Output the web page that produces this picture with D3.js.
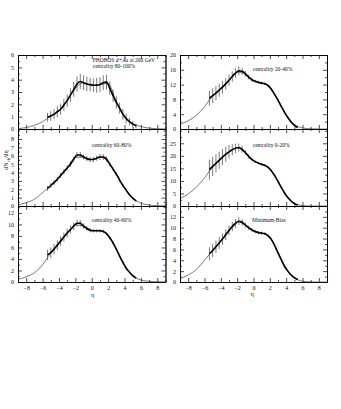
<!DOCTYPE html>
<html><head><meta charset="utf-8">
<script src="https://cdn.jsdelivr.net/npm/d3@7"></script>
<style>body{margin:0;background:#fff}svg{display:block}</style>
</head><body>
<script>
// ---- data ----
const eta = [-5.4,-5.0,-4.6,-4.2,-3.8,-3.4,-3.0,-2.6,-2.2,-1.8,-1.4,-1.0,-0.6,-0.2,0.2,0.6,1.0,1.4,1.8,2.2,2.6,3.0,3.4,3.8,4.2,4.6,5.0,5.4];
const fitEta = [-9,-8,-7,-6,-5,-4,-3,-2,-1,0,1,2,3,4,5,6,7,8,9];
const xTicks = [-8,-6,-4,-2,0,2,4,6,8];
const panelLabels = ["centrality 80-100%","centrality 20-40%","centrality 60-80%","centrality 0-20%","centrality 40-60%","Minimum-Bias"];

const val80_100 = [0.95,1.05,1.2,1.4,1.6,1.95,2.3,2.75,3.2,3.65,3.85,3.75,3.65,3.6,3.55,3.55,3.6,3.75,3.8,3.3,2.7,2.15,1.7,1.2,0.85,0.6,0.4,0.25];
const err80_100 = [0.35,0.4,0.4,0.45,0.45,0.5,0.5,0.55,0.6,0.6,0.6,0.6,0.6,0.55,0.55,0.6,0.6,0.6,0.6,0.55,0.5,0.5,0.45,0.45,0.4,0.3,0.25,0.2];
const fit80_100 = [0.03,0.12,0.3,0.6,1.05,1.5,2.3,3.3,3.75,3.55,3.6,3.7,2.2,1.0,0.45,0.2,0.07,0.02,0.0];

const val20_40 = [8.3,9.0,9.7,10.5,11.3,12.2,13.2,14.2,15.1,15.7,15.6,14.9,14.0,13.3,12.9,12.6,12.4,12.2,11.7,10.7,9.3,7.8,6.1,4.5,3.1,1.9,1.0,0.4];
const err20_40 = [2.0,2.0,1.9,1.8,1.7,1.6,1.5,1.4,1.3,1.2,1.0,0.8,0.6,0.5,0.4,0.4,0.4,0.3,0.3,0.3,0.3,0.3,0.3,0.3,0.2,0.2,0.2,0.1];
const fit20_40 = [1.3,2.2,3.7,6.0,9.0,11.0,13.2,15.4,15.0,13.1,12.4,11.3,7.8,3.8,1.3,0.3,0.05,0.0,0.0];

const val60_80 = [2.1,2.45,2.8,3.2,3.65,4.1,4.55,5.0,5.6,6.1,6.1,5.85,5.65,5.55,5.55,5.7,5.85,5.85,5.6,5.0,4.4,3.8,3.1,2.45,1.9,1.35,0.95,0.6];
const err60_80 = [0.3,0.3,0.3,0.3,0.3,0.3,0.3,0.3,0.3,0.35,0.35,0.3,0.3,0.3,0.3,0.3,0.35,0.35,0.3,0.25,0.2,0.2,0.2,0.2,0.15,0.15,0.1,0.1];
const fit60_80 = [0.12,0.4,0.8,1.6,2.45,3.4,4.5,5.8,5.85,5.55,5.85,5.3,3.8,2.15,0.95,0.35,0.12,0.04,0.01];

const val0_20 = [14.5,15.8,17.0,18.2,19.5,20.6,21.6,22.4,23.0,23.3,22.6,21.3,19.8,18.6,17.7,17.1,16.6,16.2,15.4,14.0,12.1,9.8,7.4,5.2,3.4,2.0,1.0,0.4];
const err0_20 = [4.0,3.8,3.6,3.4,3.2,3.0,2.6,2.2,1.9,1.6,1.3,1.0,0.8,0.6,0.5,0.5,0.5,0.5,0.4,0.4,0.4,0.3,0.3,0.3,0.3,0.2,0.2,0.2];
const fit0_20 = [3.0,4.8,7.5,11.2,15.6,18.8,21.6,23.2,21.3,18.1,16.6,14.8,9.8,4.2,1.0,0.15,0.0,0.0,0.0];

const val40_60 = [4.7,5.1,5.7,6.4,7.1,7.8,8.5,9.1,9.7,10.2,10.2,9.7,9.3,9.0,8.9,8.9,8.9,8.8,8.4,7.7,6.8,5.7,4.5,3.4,2.4,1.7,1.1,0.7];
const err40_60 = [0.9,0.9,0.9,0.85,0.8,0.8,0.75,0.7,0.65,0.6,0.55,0.45,0.4,0.35,0.3,0.3,0.3,0.3,0.25,0.25,0.25,0.2,0.2,0.2,0.2,0.15,0.15,0.1];
const fit40_60 = [0.45,0.9,1.6,3.0,5.1,6.9,8.5,9.9,9.7,9.0,8.9,8.0,5.7,2.9,1.1,0.35,0.12,0.04,0.01];

const valMB = [5.2,5.8,6.5,7.2,7.9,8.7,9.5,10.2,10.8,11.2,11.0,10.5,10.0,9.6,9.3,9.1,9.0,8.9,8.5,7.8,6.7,5.4,4.1,2.9,2.0,1.3,0.8,0.45];
const errMB = [1.2,1.2,1.15,1.1,1.05,1.0,0.9,0.85,0.8,0.7,0.6,0.5,0.4,0.35,0.3,0.3,0.3,0.25,0.25,0.25,0.2,0.2,0.2,0.2,0.15,0.15,0.1,0.1];
const fitMB = [0.6,1.3,2.3,4.0,5.8,7.6,9.5,11.1,10.5,9.4,9.0,8.2,5.4,2.5,0.8,0.15,0.02,0.0,0.0];

const yLabelTicks = [[0,1,2,3,4,5,6],[0,4,8,12,16,20],[0,1,2,3,4,5,6,7,8],[0,5,10,15,20,25],[0,2,4,6,8,10,12],[0,2,4,6,8,10,12]];
const yMinorTicks = [[0.5,1.5,2.5,3.5,4.5,5.5],[2,6,10,14,18],[0.5,1.5,2.5,3.5,4.5,5.5,6.5,7.5,8.5,9],[2.5,7.5,12.5,17.5,22.5,27.5,30],[1,3,5,7,9,11,13],[1,3,5,7,9,11,13]];
const yMax = [6,20,9.2,30.7,13.2,14];

// ---- layout ----
const W = 341, H = 409;
const colX = [[18,165.5],[180,327]];
const rowY = [[55,129],[129,206],[206,282]];
const vals = [val80_100,val20_40,val60_80,val0_20,val40_60,valMB];
const errs = [err80_100,err20_40,err60_80,err0_20,err40_60,errMB];
const fits = [fit80_100,fit20_40,fit60_80,fit0_20,fit40_60,fitMB];
const labelPos = [[92.7,68],[252.7,71],[91.7,147],[252.7,147],[91.7,222],[252,222]];

const svg = d3.select("body").append("svg").attr("width",W).attr("height",H)
  .style("font-family","'Liberation Serif','DejaVu Serif',serif");
svg.append("rect").attr("width",W).attr("height",H).attr("fill","#fff");

const minorX = d3.range(-9,10,1).filter(v=>v%2!==0);

for (let i=0;i<6;i++){
  const col = i%2, row = Math.floor(i/2);
  const x = d3.scaleLinear().domain([-9,9]).range(colX[col]);
  const y = d3.scaleLinear().domain([0,yMax[i]]).range([rowY[row][1],rowY[row][0]]);
  const g = svg.append("g");
  const [x0,x1] = colX[col], [y0,y1] = rowY[row];

  // axes: left (labelled), right, bottom, top
  const styleAx = sel => { sel.selectAll("path").attr("stroke","#000").attr("stroke-width",0.8);
    sel.selectAll("line").attr("stroke","#000").attr("stroke-width",0.7);
    sel.selectAll("text").attr("font-size","6px").attr("fill","#111").attr("font-family","'Liberation Serif',serif"); };

  g.append("g").attr("transform",`translate(${x0},0)`)
    .call(d3.axisLeft(y).tickValues(yLabelTicks[i]).tickSize(-4).tickSizeOuter(0).tickPadding(4).tickFormat(d3.format("d"))).call(styleAx);
  g.append("g").attr("transform",`translate(${x0},0)`)
    .call(d3.axisLeft(y).tickValues(yMinorTicks[i]).tickSize(-2).tickSizeOuter(0).tickFormat("")).call(styleAx);
  g.append("g").attr("transform",`translate(${x1},0)`)
    .call(d3.axisRight(y).tickValues(yLabelTicks[i]).tickSize(-4).tickSizeOuter(0).tickFormat("")).call(styleAx);
  g.append("g").attr("transform",`translate(${x1},0)`)
    .call(d3.axisRight(y).tickValues(yMinorTicks[i]).tickSize(-2).tickSizeOuter(0).tickFormat("")).call(styleAx);

  const bottom = d3.axisBottom(x).tickValues(xTicks).tickSize(-4).tickSizeOuter(0).tickPadding(4)
    .tickFormat(row===2 ? d3.format("d") : "");
  g.append("g").attr("transform",`translate(0,${y1})`).call(bottom).call(styleAx);
  g.append("g").attr("transform",`translate(0,${y1})`)
    .call(d3.axisBottom(x).tickValues(minorX).tickSize(-2).tickSizeOuter(0).tickFormat("")).call(styleAx);
  g.append("g").attr("transform",`translate(0,${y0})`)
    .call(d3.axisTop(x).tickValues(xTicks).tickSize(-4).tickSizeOuter(0).tickFormat("")).call(styleAx);
  g.append("g").attr("transform",`translate(0,${y0})`)
    .call(d3.axisTop(x).tickValues(minorX).tickSize(-2).tickSizeOuter(0).tickFormat("")).call(styleAx);

  // fit curve (thin)
  const fitLine = d3.line().x((d,k)=>x(fitEta[k])).y(d=>y(d)).curve(d3.curveMonotoneX);
  g.append("path").datum(fits[i]).attr("d",fitLine).attr("fill","none").attr("stroke","#222").attr("stroke-width",0.6);

  // error bars
  g.selectAll("line.err").data(vals[i]).join("line").attr("class","err")
    .attr("x1",(d,k)=>x(eta[k])).attr("x2",(d,k)=>x(eta[k]))
    .attr("y1",(d,k)=>y(Math.max(0,d-errs[i][k]))).attr("y2",(d,k)=>y(d+errs[i][k]))
    .attr("stroke","#222").attr("stroke-width",0.6);

  // data (thick)
  const dataLine = d3.line().x((d,k)=>x(eta[k])).y(d=>y(d)).curve(d3.curveMonotoneX);
  g.append("path").datum(vals[i]).attr("d",dataLine).attr("fill","none").attr("stroke","#000").attr("stroke-width",1.6);

  // panel label
  g.append("text").attr("x",labelPos[i][0]).attr("y",labelPos[i][1]).attr("font-size","5.5px").attr("fill","#111").text(panelLabels[i]);
}

// header of first panel
const hdr = svg.append("text").attr("x",92.7).attr("y",62).attr("font-size","5.5px").attr("fill","#111");
hdr.append("tspan").text("PHOBOS ");
hdr.append("tspan").attr("font-style","italic").text("d+Au");
hdr.append("tspan").text(" at 200 GeV");

// axis titles
const yt = svg.append("text").attr("transform","translate(8,160) rotate(-90)").attr("text-anchor","middle").attr("font-size","6px").attr("fill","#111");
yt.append("tspan").text("dN");
yt.append("tspan").attr("font-size","4.5px").attr("dy","1.5").text("ch");
yt.append("tspan").attr("dy","-1.5").text("/dη");
svg.append("text").attr("x",92.7).attr("y",297).attr("text-anchor","middle").attr("font-size","6.5px").attr("fill","#111").text("η");
svg.append("text").attr("x",252.3).attr("y",296).attr("text-anchor","middle").attr("font-size","6.5px").attr("fill","#111").text("η");
</script>
</body></html>
